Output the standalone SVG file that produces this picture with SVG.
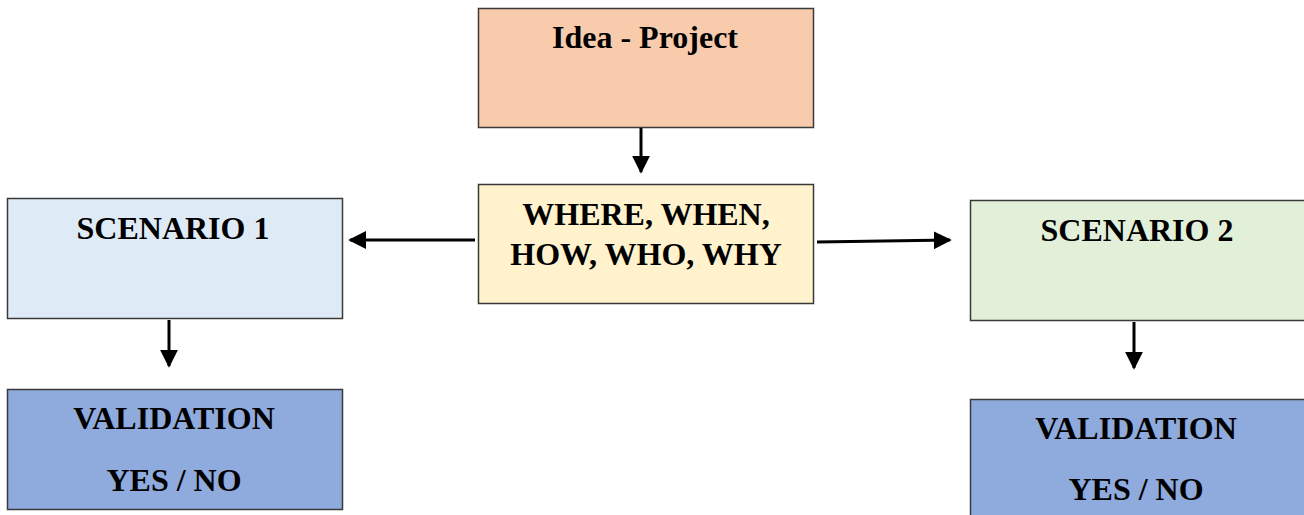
<svg xmlns="http://www.w3.org/2000/svg" width="1304" height="515" viewBox="0 0 1304 515">
  <style>
    .box { stroke: #3a3a3a; stroke-width: 1.5; }
    .lbl { font-family: "Liberation Serif", "Times New Roman", serif; font-weight: bold; font-size: 32px; fill: #000; text-anchor: middle; }
    .link { stroke: #000; stroke-width: 3; fill: none; marker-end: url(#head); }
  </style>
  <defs>
    <marker id="head" viewBox="0 0 10 10" refX="9" refY="5" markerWidth="6" markerHeight="6" markerUnits="strokeWidth" orient="auto">
      <path d="M0,0 L10,5 L0,10 z" fill="#000"/>
    </marker>
  </defs>
  <rect width="1304" height="515" fill="#fff"/>

  <g id="idea">
    <rect class="box" x="478.5" y="8.5" width="335" height="119" fill="#F8CBAD"/>
    <text class="lbl" x="645" y="48">Idea - Project</text>
  </g>

  <g id="questions">
    <rect class="box" x="478.5" y="184.5" width="335" height="119" fill="#FFF2CC"/>
    <text class="lbl" x="646" y="225">WHERE, WHEN,</text>
    <text class="lbl" x="646" y="265">HOW, WHO, WHY</text>
  </g>

  <g id="scenario1">
    <rect class="box" x="7.5" y="198.5" width="335" height="120" fill="#DEEBF7"/>
    <text class="lbl" x="173" y="239">SCENARIO 1</text>
  </g>

  <g id="validation1">
    <rect class="box" x="7.5" y="389.5" width="335" height="120" fill="#8FAADC"/>
    <text class="lbl" x="174" y="429">VALIDATION</text>
    <text class="lbl" x="174" y="491">YES / NO</text>
  </g>

  <g id="scenario2">
    <rect class="box" x="970.5" y="200.5" width="335" height="120" fill="#E2F0D9"/>
    <text class="lbl" x="1137" y="241">SCENARIO 2</text>
  </g>

  <g id="validation2">
    <rect class="box" x="970.5" y="399.5" width="335" height="120" fill="#8FAADC"/>
    <text class="lbl" x="1136" y="439">VALIDATION</text>
    <text class="lbl" x="1136" y="500">YES / NO</text>
  </g>

  <g id="connectors">
    <line class="link" x1="641" y1="128" x2="641" y2="172"/>
    <line class="link" x1="475" y1="240" x2="350" y2="240"/>
    <line class="link" x1="817" y1="242" x2="950" y2="240"/>
    <line class="link" x1="169" y1="320" x2="169" y2="366"/>
    <line class="link" x1="1134" y1="322" x2="1134" y2="368"/>
  </g>
</svg>
